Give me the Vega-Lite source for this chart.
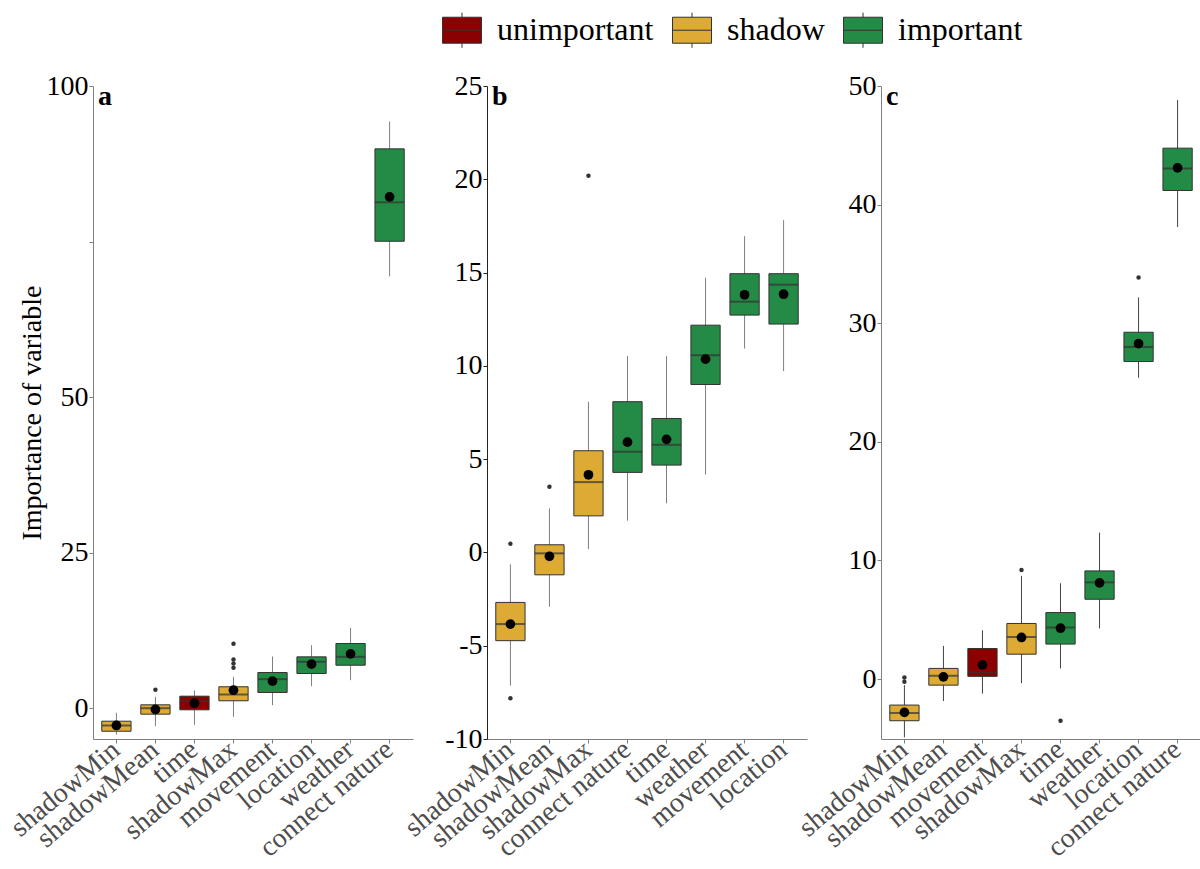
{
  "$schema": "https://vega.github.io/schema/vega-lite/v6.json",
  "padding": {"left": 5, "top": 10, "right": 0, "bottom": 0},
  "background": "white",
  "datasets": {
    "boxes": [
      {"panel": "a", "variable": "shadowMin", "group": "shadow", "lo": -4.2, "q1": -3.65, "med": -2.73, "q3": -2.04, "hi": -0.69, "mean": -2.73},
      {"panel": "a", "variable": "shadowMean", "group": "shadow", "lo": -2.84, "q1": -0.91, "med": 0.05, "q3": 0.59, "hi": 1.88, "mean": -0.16},
      {"panel": "a", "variable": "time", "group": "unimportant", "lo": -2.62, "q1": -0.21, "med": 1.17, "q3": 1.98, "hi": 2.89, "mean": 0.85},
      {"panel": "a", "variable": "shadowMax", "group": "shadow", "lo": -1.33, "q1": 1.24, "med": 2.25, "q3": 3.49, "hi": 5.09, "mean": 2.94},
      {"panel": "a", "variable": "movement", "group": "important", "lo": 0.53, "q1": 2.57, "med": 4.71, "q3": 5.78, "hi": 8.35, "mean": 4.39},
      {"panel": "a", "variable": "location", "group": "important", "lo": 3.58, "q1": 5.62, "med": 7.5, "q3": 8.3, "hi": 10.17, "mean": 7.12},
      {"panel": "a", "variable": "weather", "group": "important", "lo": 4.55, "q1": 6.95, "med": 8.3, "q3": 10.44, "hi": 12.96, "mean": 8.78},
      {"panel": "a", "variable": "connect nature", "group": "important", "lo": 69.43, "q1": 75.06, "med": 81.32, "q3": 89.9, "hi": 94.3, "mean": 82.19},
      {"panel": "b", "variable": "shadowMin", "group": "shadow", "lo": -7.14, "q1": -4.73, "med": -3.84, "q3": -2.68, "hi": -0.64, "mean": -3.84},
      {"panel": "b", "variable": "shadowMean", "group": "shadow", "lo": -2.91, "q1": -1.2, "med": -0.05, "q3": 0.41, "hi": 2.36, "mean": -0.21},
      {"panel": "b", "variable": "shadowMax", "group": "shadow", "lo": 0.18, "q1": 1.96, "med": 3.77, "q3": 5.45, "hi": 8.08, "mean": 4.16},
      {"panel": "b", "variable": "connect nature", "group": "important", "lo": 1.7, "q1": 4.29, "med": 5.4, "q3": 8.08, "hi": 10.52, "mean": 5.91},
      {"panel": "b", "variable": "time", "group": "important", "lo": 2.63, "q1": 4.68, "med": 5.77, "q3": 7.18, "hi": 10.52, "mean": 6.06},
      {"panel": "b", "variable": "weather", "group": "important", "lo": 4.18, "q1": 9.0, "med": 10.57, "q3": 12.18, "hi": 14.72, "mean": 10.36},
      {"panel": "b", "variable": "movement", "group": "important", "lo": 10.93, "q1": 12.72, "med": 13.44, "q3": 14.94, "hi": 16.95, "mean": 13.81},
      {"panel": "b", "variable": "location", "group": "important", "lo": 9.72, "q1": 12.24, "med": 14.35, "q3": 14.94, "hi": 17.81, "mean": 13.84},
      {"panel": "c", "variable": "shadowMin", "group": "shadow", "lo": -4.91, "q1": -3.51, "med": -2.86, "q3": -2.19, "hi": -0.51, "mean": -2.81},
      {"panel": "c", "variable": "shadowMean", "group": "shadow", "lo": -1.85, "q1": -0.51, "med": 0.28, "q3": 0.9, "hi": 2.8, "mean": 0.19},
      {"panel": "c", "variable": "movement", "group": "unimportant", "lo": -1.23, "q1": 0.23, "med": 0.56, "q3": 2.58, "hi": 4.12, "mean": 1.2},
      {"panel": "c", "variable": "shadowMax", "group": "shadow", "lo": -0.34, "q1": 2.1, "med": 3.54, "q3": 4.69, "hi": 8.7, "mean": 3.51},
      {"panel": "c", "variable": "time", "group": "important", "lo": 0.9, "q1": 2.95, "med": 4.35, "q3": 5.61, "hi": 8.08, "mean": 4.29},
      {"panel": "c", "variable": "weather", "group": "important", "lo": 4.27, "q1": 6.73, "med": 8.16, "q3": 9.12, "hi": 12.35, "mean": 8.11},
      {"panel": "c", "variable": "location", "group": "important", "lo": 25.4, "q1": 26.77, "med": 28.0, "q3": 29.24, "hi": 32.18, "mean": 28.28},
      {"panel": "c", "variable": "connect nature", "group": "important", "lo": 38.11, "q1": 41.19, "med": 43.04, "q3": 44.76, "hi": 48.82, "mean": 43.1}
    ],
    "outliers": [
      {"panel": "a", "variable": "shadowMean", "value": 3.0},
      {"panel": "a", "variable": "shadowMax", "value": 10.39},
      {"panel": "a", "variable": "shadowMax", "value": 7.87},
      {"panel": "a", "variable": "shadowMax", "value": 7.23},
      {"panel": "a", "variable": "shadowMax", "value": 6.54},
      {"panel": "b", "variable": "shadowMin", "value": 0.47},
      {"panel": "b", "variable": "shadowMin", "value": -7.82},
      {"panel": "b", "variable": "shadowMean", "value": 3.52},
      {"panel": "b", "variable": "shadowMax", "value": 20.19},
      {"panel": "c", "variable": "shadowMin", "value": 0.14},
      {"panel": "c", "variable": "shadowMin", "value": -0.23},
      {"panel": "c", "variable": "shadowMax", "value": 9.2},
      {"panel": "c", "variable": "time", "value": -3.51},
      {"panel": "c", "variable": "location", "value": 33.86}
    ]
  },
  "config": {
    "font": "Liberation Serif",
    "view": {"stroke": null},
    "axis": {"grid": false, "tickSize": 4, "domainColor": "#7f7f7f", "tickColor": "#7f7f7f", "titleFont": "Liberation Serif", "labelFont": "Liberation Serif"},
    "axisY": {"labelFontSize": 28, "labelColor": "black", "labelPadding": 1, "titleFontSize": 28, "titleFontWeight": "normal", "titleColor": "black", "titlePadding": 0},
    "axisX": {"labelFontSize": 28, "labelColor": "#4d4d4d", "labelAngle": -40, "labelAlign": "right", "labelBaseline": "middle", "labelPadding": 3, "title": null},
    "title": {"font": "Liberation Serif", "fontSize": 28, "fontWeight": "bold", "color": "black", "anchor": "start", "frame": "group", "offset": 0, "baseline": "alphabetic", "dx": 5, "dy": 43},
    "legend": {"labelFont": "Liberation Serif", "labelFontSize": 32, "labelColor": "black"}
  },
  "spacing": 74,
  "bounds": "flush",
  "resolve": {"scale": {"x": "independent", "y": "independent", "fill": "shared"}},
  "hconcat": [
    {
      "width": 320, "height": 653,
      "title": "a",
      "encoding": {"x": {"field": "variable", "type": "nominal", "sort": ["shadowMin", "shadowMean", "time", "shadowMax", "movement", "location", "weather", "connect nature"], "scale": {"paddingInner": 0.25, "paddingOuter": 0.225}, "title": null}},
      "layer": [
        {"data": {"name": "boxes"}, "transform": [{"filter": "datum.panel == 'a'"}], "mark": {"type": "rule", "color": "#7f7f7f", "strokeWidth": 1},
         "encoding": {"y": {"field": "lo", "type": "quantitative", "title": "Importance of variable", "scale": {"domain": [-4.9, 100], "nice": false, "zero": false}, "axis": {"values": [0, 25, 50, 75, 100], "labelExpr": "datum.value == 75 ? '' : datum.value + ''"}}, "y2": {"field": "hi"}}},
        {"data": {"name": "boxes"}, "transform": [{"filter": "datum.panel == 'a'"}], "mark": {"type": "bar", "stroke": "#333333", "strokeWidth": 1},
         "encoding": {"y": {"field": "q1", "type": "quantitative", "title": "Importance of variable", "scale": {"domain": [-4.9, 100], "nice": false, "zero": false}}, "y2": {"field": "q3"},
           "fill": {"field": "group", "type": "nominal", "scale": {"domain": ["unimportant", "shadow", "important"], "range": ["#8B0000", "#DDAA33", "#238B45"]},
             "legend": {"orient": "none", "legendX": 349, "legendY": -76, "direction": "horizontal", "title": null, "symbolType": "M-1,-0.667H1V0.667H-1Z M-1,0H1 M0,-0.667V-0.9 M0,0.667V0.9", "symbolSize": 1521, "symbolStrokeColor": "#333333", "symbolStrokeWidth": 1, "labelOffset": 15, "columnPadding": 16}}}},
        {"data": {"name": "boxes"}, "transform": [{"filter": "datum.panel == 'a'"}], "mark": {"type": "tick", "color": "#333333", "thickness": 2},
         "encoding": {"y": {"field": "med", "type": "quantitative", "title": "Importance of variable", "scale": {"domain": [-4.9, 100], "nice": false, "zero": false}}}},
        {"data": {"name": "outliers"}, "transform": [{"filter": "datum.panel == 'a'"}], "mark": {"type": "circle", "size": 20, "color": "#333333", "opacity": 1},
         "encoding": {"y": {"field": "value", "type": "quantitative", "title": "Importance of variable", "scale": {"domain": [-4.9, 100], "nice": false, "zero": false}}}},
        {"data": {"name": "boxes"}, "transform": [{"filter": "datum.panel == 'a'"}], "mark": {"type": "circle", "size": 95, "color": "black", "opacity": 1},
         "encoding": {"y": {"field": "mean", "type": "quantitative", "title": "Importance of variable", "scale": {"domain": [-4.9, 100], "nice": false, "zero": false}}}}
      ]
    },
    {
      "width": 320, "height": 653,
      "title": "b",
      "encoding": {"x": {"field": "variable", "type": "nominal", "sort": ["shadowMin", "shadowMean", "shadowMax", "connect nature", "time", "weather", "movement", "location"], "scale": {"paddingInner": 0.25, "paddingOuter": 0.225}, "title": null}},
      "layer": [
        {"data": {"name": "boxes"}, "transform": [{"filter": "datum.panel == 'b'"}], "mark": {"type": "rule", "color": "#7f7f7f", "strokeWidth": 1},
         "encoding": {"y": {"field": "lo", "type": "quantitative", "title": null, "scale": {"domain": [-10, 25], "nice": false, "zero": false}, "axis": {"values": [-10, -5, 0, 5, 10, 15, 20, 25], "labelExpr": "datum.value + ''", "domainColor": "#222222", "tickColor": "#222222"}}, "y2": {"field": "hi"}}},
        {"data": {"name": "boxes"}, "transform": [{"filter": "datum.panel == 'b'"}], "mark": {"type": "bar", "stroke": "#333333", "strokeWidth": 1},
         "encoding": {"y": {"field": "q1", "type": "quantitative", "title": null, "scale": {"domain": [-10, 25], "nice": false, "zero": false}}, "y2": {"field": "q3"},
           "fill": {"field": "group", "type": "nominal", "scale": {"domain": ["unimportant", "shadow", "important"], "range": ["#8B0000", "#DDAA33", "#238B45"]},
             "legend": {"orient": "none", "legendX": 349, "legendY": -76, "direction": "horizontal", "title": null, "symbolType": "M-1,-0.667H1V0.667H-1Z M-1,0H1 M0,-0.667V-0.9 M0,0.667V0.9", "symbolSize": 1521, "symbolStrokeColor": "#333333", "symbolStrokeWidth": 1, "labelOffset": 15, "columnPadding": 16}}}},
        {"data": {"name": "boxes"}, "transform": [{"filter": "datum.panel == 'b'"}], "mark": {"type": "tick", "color": "#333333", "thickness": 2},
         "encoding": {"y": {"field": "med", "type": "quantitative", "title": null, "scale": {"domain": [-10, 25], "nice": false, "zero": false}}}},
        {"data": {"name": "outliers"}, "transform": [{"filter": "datum.panel == 'b'"}], "mark": {"type": "circle", "size": 20, "color": "#333333", "opacity": 1},
         "encoding": {"y": {"field": "value", "type": "quantitative", "title": null, "scale": {"domain": [-10, 25], "nice": false, "zero": false}}}},
        {"data": {"name": "boxes"}, "transform": [{"filter": "datum.panel == 'b'"}], "mark": {"type": "circle", "size": 95, "color": "black", "opacity": 1},
         "encoding": {"y": {"field": "mean", "type": "quantitative", "title": null, "scale": {"domain": [-10, 25], "nice": false, "zero": false}}}}
      ]
    },
    {
      "width": 320, "height": 653,
      "title": "c",
      "encoding": {"x": {"field": "variable", "type": "nominal", "sort": ["shadowMin", "shadowMean", "movement", "shadowMax", "time", "weather", "location", "connect nature"], "scale": {"paddingInner": 0.25, "paddingOuter": 0.225}, "title": null}},
      "layer": [
        {"data": {"name": "boxes"}, "transform": [{"filter": "datum.panel == 'c'"}], "mark": {"type": "rule", "color": "#444444", "strokeWidth": 1},
         "encoding": {"y": {"field": "lo", "type": "quantitative", "title": null, "scale": {"domain": [-5.05, 50], "nice": false, "zero": false}, "axis": {"values": [0, 10, 20, 30, 40, 50], "labelExpr": "datum.value + ''"}}, "y2": {"field": "hi"}}},
        {"data": {"name": "boxes"}, "transform": [{"filter": "datum.panel == 'c'"}], "mark": {"type": "bar", "stroke": "#333333", "strokeWidth": 1},
         "encoding": {"y": {"field": "q1", "type": "quantitative", "title": null, "scale": {"domain": [-5.05, 50], "nice": false, "zero": false}}, "y2": {"field": "q3"},
           "fill": {"field": "group", "type": "nominal", "scale": {"domain": ["unimportant", "shadow", "important"], "range": ["#8B0000", "#DDAA33", "#238B45"]},
             "legend": {"orient": "none", "legendX": 349, "legendY": -76, "direction": "horizontal", "title": null, "symbolType": "M-1,-0.667H1V0.667H-1Z M-1,0H1 M0,-0.667V-0.9 M0,0.667V0.9", "symbolSize": 1521, "symbolStrokeColor": "#333333", "symbolStrokeWidth": 1, "labelOffset": 15, "columnPadding": 16}}}},
        {"data": {"name": "boxes"}, "transform": [{"filter": "datum.panel == 'c'"}], "mark": {"type": "tick", "color": "#333333", "thickness": 2},
         "encoding": {"y": {"field": "med", "type": "quantitative", "title": null, "scale": {"domain": [-5.05, 50], "nice": false, "zero": false}}}},
        {"data": {"name": "outliers"}, "transform": [{"filter": "datum.panel == 'c'"}], "mark": {"type": "circle", "size": 20, "color": "#333333", "opacity": 1},
         "encoding": {"y": {"field": "value", "type": "quantitative", "title": null, "scale": {"domain": [-5.05, 50], "nice": false, "zero": false}}}},
        {"data": {"name": "boxes"}, "transform": [{"filter": "datum.panel == 'c'"}], "mark": {"type": "circle", "size": 95, "color": "black", "opacity": 1},
         "encoding": {"y": {"field": "mean", "type": "quantitative", "title": null, "scale": {"domain": [-5.05, 50], "nice": false, "zero": false}}}}
      ]
    }
  ]
}
